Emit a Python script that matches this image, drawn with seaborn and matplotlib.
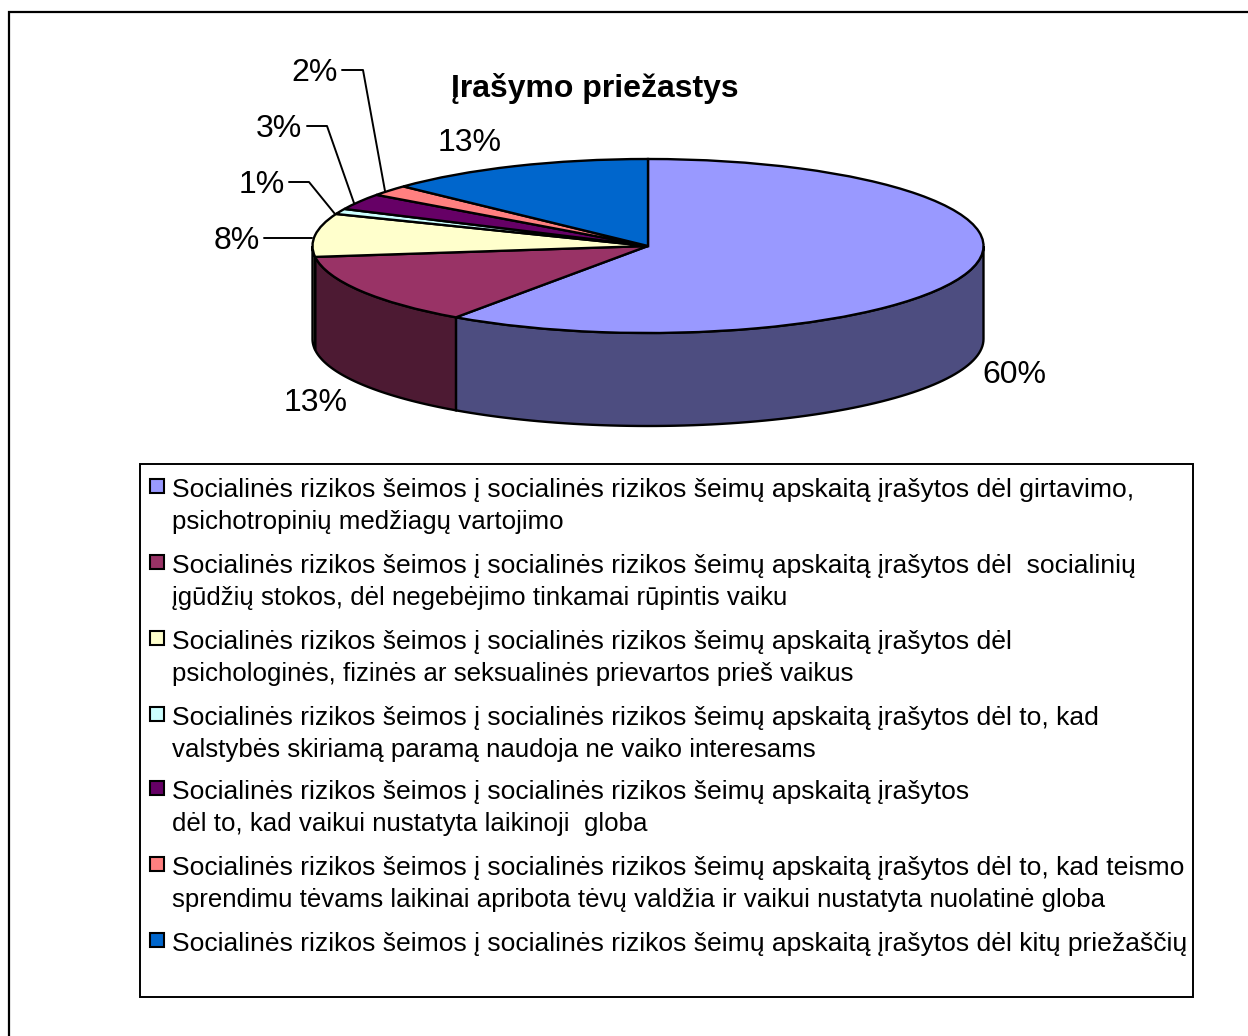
import matplotlib
matplotlib.use("Agg")
import matplotlib.pyplot as plt
import seaborn as sns
import numpy as np
from matplotlib.patches import Rectangle

# Data
values = [59.7, 13.3, 8, 1, 3, 2, 13]
top_colors = ['#9999FF', '#993366', '#FFFFCC', '#CCFFFF', '#660066', '#FF8080', '#0066CC']
wall_colors = ['#4D4D80', '#4D1A33', '#808066', '#668080', '#330033', '#804040', '#003366']
title = 'Įrašymo priežastys'
legend_labels = [
    'Socialinės rizikos šeimos į socialinės rizikos šeimų apskaitą įrašytos dėl girtavimo,\npsichotropinių medžiagų vartojimo',
    'Socialinės rizikos šeimos į socialinės rizikos šeimų apskaitą įrašytos dėl  socialinių\nįgūdžių stokos, dėl negebėjimo tinkamai rūpintis vaiku',
    'Socialinės rizikos šeimos į socialinės rizikos šeimų apskaitą įrašytos dėl\npsichologinės, fizinės ar seksualinės prievartos prieš vaikus',
    'Socialinės rizikos šeimos į socialinės rizikos šeimų apskaitą įrašytos dėl to, kad\nvalstybės skiriamą paramą naudoja ne vaiko interesams',
    'Socialinės rizikos šeimos į socialinės rizikos šeimų apskaitą įrašytos\ndėl to, kad vaikui nustatyta laikinoji  globa',
    'Socialinės rizikos šeimos į socialinės rizikos šeimų apskaitą įrašytos dėl to, kad teismo\nsprendimu tėvams laikinai apribota tėvų valdžia ir vaikui nustatyta nuolatinė globa',
    'Socialinės rizikos šeimos į socialinės rizikos šeimų apskaitą įrašytos dėl kitų priežaščių',
]

W, H = 1248, 1036
# pie geometry in pixels
cx, cy, rx, ry, depth = 648, 246, 335.5, 87, 93

sns.set_style("white")
plt.rcParams['font.family'] = ['Liberation Sans', 'DejaVu Sans']

fig = plt.figure(figsize=(W / 100, H / 100), dpi=100, facecolor='white')

# Overlay in pixel coordinates for frame, labels and legend
over = fig.add_axes([0, 0, 1, 1], zorder=2)
over.set_xlim(0, W)
over.set_ylim(H, 0)
over.axis('off')

# Pie axes: the unit circle maps to the top ellipse
y_low, y_high = -2.3, 1.2
x_pad = 1.1
ax = fig.add_axes([(cx - rx * x_pad) / W, 1 - (cy - y_low * ry) / H,
                   2 * rx * x_pad / W, (y_high - y_low) * ry / H], zorder=1)

# Side wall, only the front half of the pie shows
depth_u = depth / ry
edges = np.cumsum([0] + values) / sum(values) * 2 * np.pi
for a, b, c in zip(edges[:-1], edges[1:], wall_colors):
    a, b = max(a, np.pi / 2), min(b, 3 * np.pi / 2)
    if b <= a:
        continue
    t = np.linspace(a, b, 80)
    x, y = np.sin(t), np.cos(t)
    ax.fill(np.r_[x, x[::-1]], np.r_[y, y[::-1] - depth_u], facecolor=c,
            edgecolor='black', linewidth=1.7)

ax.pie(values, colors=top_colors, startangle=90, counterclock=False, radius=1,
       wedgeprops=dict(edgecolor='black', linewidth=1.7))
ax.set_aspect('auto')
ax.set_xlim(-x_pad, x_pad)
ax.set_ylim(y_low, y_high)
ax.axis('off')

# Chart frame (only left and top are inside the picture)
over.plot([8.5, 8.5, W + 5], [H + 5, 11.5, 11.5], color='black', linewidth=1.6, solid_joinstyle='miter')

over.text(595, 89, title, fontsize=23, fontweight='bold', ha='center', va='center', color='black')

# Percent labels and leader lines
label_pos = [(1014, 375), (316, 403), (237, 241), (262, 185), (279, 129), (315, 73), (470, 143)]
for v, (lx, ly) in zip(values, label_pos):
    over.text(lx, ly, f'{v:.0f}%', fontsize=23, ha='center', va='center', color='black')

leaders = [
    ([264, 312], [238, 238]),
    ([289, 309, 335], [182, 182, 214]),
    ([307, 327, 354], [126, 126, 203]),
    ([342, 363, 385], [70, 70, 191]),
]
for lx, ly in leaders:
    over.plot(lx, ly, color='black', linewidth=1.4)

# Legend
over.add_patch(Rectangle((140, 463.5), 1052.5, 533.5, facecolor='none', edgecolor='black', linewidth=1.4))
legend_y = [486, 562, 638, 714, 788, 864, 940]
for label, c, y0 in zip(legend_labels, top_colors, legend_y):
    over.add_patch(Rectangle((150, y0 - 7), 14, 14, facecolor=c, edgecolor='black', linewidth=1.5))
    for j, line in enumerate(label.split('\n')):
        # first lines run a little wider in the original
        size = 19.05 if j == 0 else 18.6
        over.text(172, y0 + 1 + 32 * j, line, fontsize=size, ha='left', va='center_baseline', color='black')

fig.savefig('out.png', dpi=100, facecolor='white')
